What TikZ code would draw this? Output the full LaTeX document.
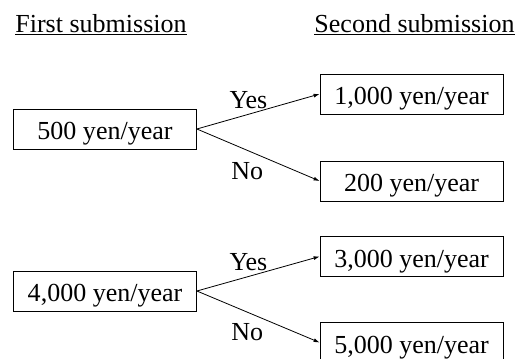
\documentclass[tikz,border=0pt]{standalone}
\usepackage{fontspec}
\setmainfont{Liberation Serif}
\usepackage{tikz}
\usetikzlibrary{arrows.meta}

\begin{document}
\begin{tikzpicture}[x=1pt, y=-1pt,
          every node/.style = {font=\fontsize{26}{30}\selectfont},
          price/.style = {draw, line width=.8pt, minimum width=183pt, minimum height=40pt,
                          inner sep=0pt, text height=21pt, text depth=0pt},
          head/.style = {anchor=base},
          branch/.style = {line width=.8pt, -{Latex[length=6pt, width=4pt]}}]
        \useasboundingbox (0,0) rectangle (518,358);
        \node[head] (first) at (101,33) {\underline{First submission}};
        \node[head] (second) at (414.5,33) {\underline{Second submission}};
        \node[price] (p500) at (105,129) {500 yen/year};
        \node[price] (p1000) at (411.5,94) {1,000 yen/year};
        \node[price] (p200) at (411.5,181) {200 yen/year};
        \node[price] (p4000) at (105,291) {4,000 yen/year};
        \node[price] (p3000) at (411.5,256.5) {3,000 yen/year};
        \node[price] (p5000) at (411.5,342.5) {5,000 yen/year};
        \foreach \a/\b/\c in {p500/p1000/p200, p4000/p3000/p5000}
                 {
                   \draw[branch] (\a.east) -- node[pos=.42, above=2pt] (\a yes) {Yes} (\b.west);
                   \draw[branch] (\a.east) -- node[pos=.41, below=8pt] (\a no) {No} (\c.west);
                 }
      \end{tikzpicture}
\end{document}
